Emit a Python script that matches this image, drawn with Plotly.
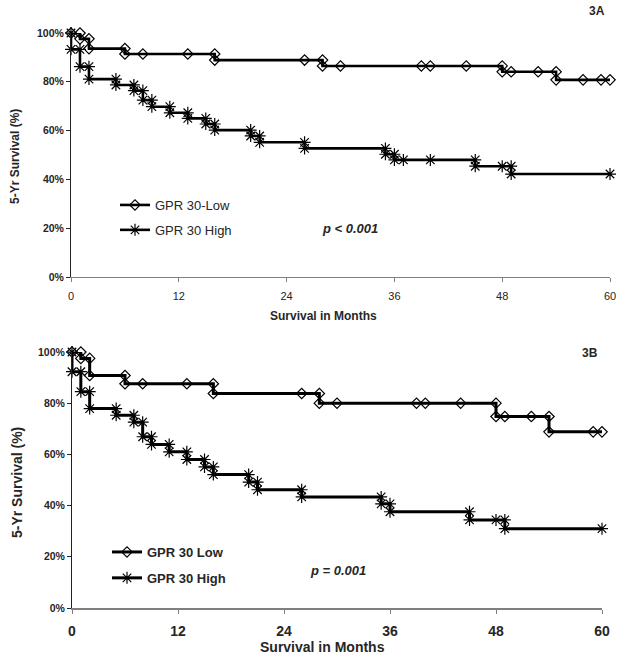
import plotly.graph_objects as go

# ---------------- Data ----------------
# Panel 3A - GPR 30-Low (step-curve vertices, months / survival %)
a_low_months = [0, 1, 1, 2, 2, 6, 6, 8, 13, 16, 16, 26, 28, 28, 30, 39, 40, 44, 48, 48, 49, 52, 54, 54, 57, 59, 60]
a_low_surv = [100, 100, 97.6, 97.6, 93.6, 93.6, 91.4, 91.4, 91.4, 91.4, 88.9, 88.9, 88.9, 86.5, 86.5, 86.5, 86.5,
              86.5, 86.5, 84.1, 84.1, 84.1, 84.1, 80.8, 80.8, 80.8, 80.8]
# Panel 3A - GPR 30 High
a_high_months = [0, 0, 1, 1, 2, 2, 5, 5, 7, 7, 8, 8, 9, 9, 11, 11, 13, 13, 15, 15, 16, 16, 20, 20, 21, 21, 26, 26,
                 35, 35, 36, 36, 37, 40, 45, 45, 48, 49, 49, 60]
a_high_surv = [100, 93.3, 93.3, 86.2, 86.2, 81.1, 81.1, 78.7, 78.7, 76.4, 76.4, 72.5, 72.5, 69.8, 69.8, 67.3, 67.3,
               65.0, 65.0, 62.7, 62.7, 60.2, 60.2, 57.8, 57.8, 55.2, 55.2, 52.7, 52.7, 50.3, 50.3, 48.0, 48.0, 48.0,
               48.0, 45.4, 45.4, 45.4, 42.2, 42.2]
# Panel 3B - GPR 30 Low
b_low_months = [0, 1, 1, 2, 2, 6, 6, 8, 13, 16, 16, 26, 28, 28, 30, 39, 40, 44, 48, 48, 49, 52, 54, 54, 59, 60]
b_low_surv = [100, 100, 97.5, 97.5, 90.8, 90.8, 87.6, 87.6, 87.6, 87.6, 83.8, 83.8, 83.8, 80.0, 80.0, 80.0, 80.0,
              80.0, 80.0, 74.8, 74.8, 74.8, 74.8, 68.8, 68.8, 68.8]
# Panel 3B - GPR 30 High
b_high_months = [0, 0, 1, 1, 2, 2, 5, 5, 7, 7, 8, 8, 9, 9, 11, 11, 13, 13, 15, 15, 16, 16, 20, 20, 21, 21, 26, 26,
                 35, 35, 36, 36, 45, 45, 48, 49, 49, 60]
b_high_surv = [100, 92.3, 92.3, 84.5, 84.5, 77.9, 77.9, 75.3, 75.3, 72.6, 72.6, 66.9, 66.9, 63.9, 63.9, 61.0, 61.0,
               58.0, 58.0, 55.1, 55.1, 52.1, 52.1, 49.2, 49.2, 46.2, 46.2, 43.4, 43.4, 40.7, 40.7, 37.6, 37.6, 34.4,
               34.4, 34.4, 31.0, 31.0]

x_ticks = [0, 12, 24, 36, 48, 60]
y_ticks = [0, 20, 40, 60, 80, 100]
y_tick_text = ["0%", "20%", "40%", "60%", "80%", "100%"]

FONT = "Arial, Liberation Sans, sans-serif"
TXT = "#262626"
W, H = 624, 657

fig = go.Figure()

def add_curve(xs, ys, name, sym, size, lw, xa, ya, leg, group):
    fig.add_trace(go.Scatter(
        x=xs, y=ys, mode="lines+markers", name=name,
        line=dict(color="black", width=lw),
        marker=dict(symbol=sym, size=size, color="black", line=dict(color="black", width=1.2)),
        xaxis=xa, yaxis=ya, legend=leg, legendgroup=group, cliponaxis=False,
    ))

add_curve(a_low_months, a_low_surv, "GPR 30-Low", "diamond-open", 8, 2.6, "x", "y", "legend", "a1")
add_curve(a_high_months, a_high_surv, "GPR 30 High", "asterisk-open", 10, 2.6, "x", "y", "legend", "a2")
add_curve(b_low_months, b_low_surv, "GPR 30 Low", "diamond-open", 8, 3, "x2", "y2", "legend2", "b1")
add_curve(b_high_months, b_high_surv, "GPR 30 High", "asterisk-open", 10, 3, "x2", "y2", "legend2", "b2")

def px_x(p):
    return p / W

def px_y(p):
    return 1 - p / H

xa_common = dict(range=[0, 60], tickvals=x_ticks, ticks="outside", ticklen=4, showgrid=False, zeroline=False,
                 showline=True, linecolor="#7f7f7f", tickcolor="#7f7f7f", automargin=False)
ya_common = dict(range=[0, 100], tickvals=y_ticks, ticktext=y_tick_text, ticks="outside", ticklen=4,
                 showgrid=False, zeroline=False, showline=True, linecolor="#222", tickcolor="#222",
                 automargin=False, tickfont=dict(family=FONT, size=10.5, color=TXT, weight="bold"))

fig.update_layout(
    width=W, height=H, margin=dict(l=0, r=0, t=0, b=0),
    paper_bgcolor="white", plot_bgcolor="white", showlegend=True,
    xaxis=dict(xa_common, domain=[px_x(71), px_x(610)], anchor="y", linewidth=1,
               tickfont=dict(family=FONT, size=11, color=TXT), ticklabelstandoff=5),
    yaxis=dict(ya_common, domain=[px_y(277), px_y(33)], anchor="x", linewidth=1),
    xaxis2=dict(xa_common, domain=[px_x(72), px_x(602)], anchor="y2", linewidth=2,
                tickfont=dict(family=FONT, size=14, color=TXT, weight="bold"), ticklabelstandoff=5),
    yaxis2=dict(ya_common, domain=[px_y(608), px_y(352)], anchor="x2", linewidth=1),
    legend=dict(x=px_x(115), y=px_y(190), xanchor="left", yanchor="top", bgcolor="rgba(0,0,0,0)",
                font=dict(family=FONT, size=13, color=TXT), tracegroupgap=5, traceorder="grouped"),
    legend2=dict(x=px_x(107), y=px_y(537), xanchor="left", yanchor="top", bgcolor="rgba(0,0,0,0)",
                 font=dict(family=FONT, size=13, color=TXT, weight="bold"), tracegroupgap=6, traceorder="grouped"),
)

ann = [
    dict(text="3A", x=px_x(597), y=px_y(11), size=12, weight="bold", style="normal"),
    dict(text="3B", x=px_x(590), y=px_y(353), size=12, weight="bold", style="normal"),
    dict(text="p < 0.001", x=px_x(350), y=px_y(228), size=13, weight="bold", style="italic"),
    dict(text="p = 0.001", x=px_x(338), y=px_y(570), size=13, weight="bold", style="italic"),
    dict(text="Survival in Months", x=px_x(323), y=px_y(316), size=12, weight="bold", style="normal"),
    dict(text="Survival in Months", x=px_x(322), y=px_y(647), size=14, weight="bold", style="normal"),
]
for a in ann:
    fig.add_annotation(text=a["text"], x=a["x"], y=a["y"], xref="paper", yref="paper", showarrow=False,
                       xanchor="center", yanchor="middle",
                       font=dict(family=FONT, size=a["size"], color=TXT, weight=a["weight"], style=a["style"]))

for yy, xx, sz in [(157, 15, 12), (483, 17, 14)]:
    fig.add_annotation(text="5-Yr Survival (%)", x=px_x(xx), y=px_y(yy), xref="paper",
                       yref="paper", showarrow=False, textangle=-90, xanchor="center", yanchor="middle",
                       font=dict(family=FONT, size=sz, color=TXT, weight="bold"))

fig.write_html("out.html", config={"displayModeBar": False},
               post_script="document.body.style.margin='0px';document.body.style.overflow='hidden';")
